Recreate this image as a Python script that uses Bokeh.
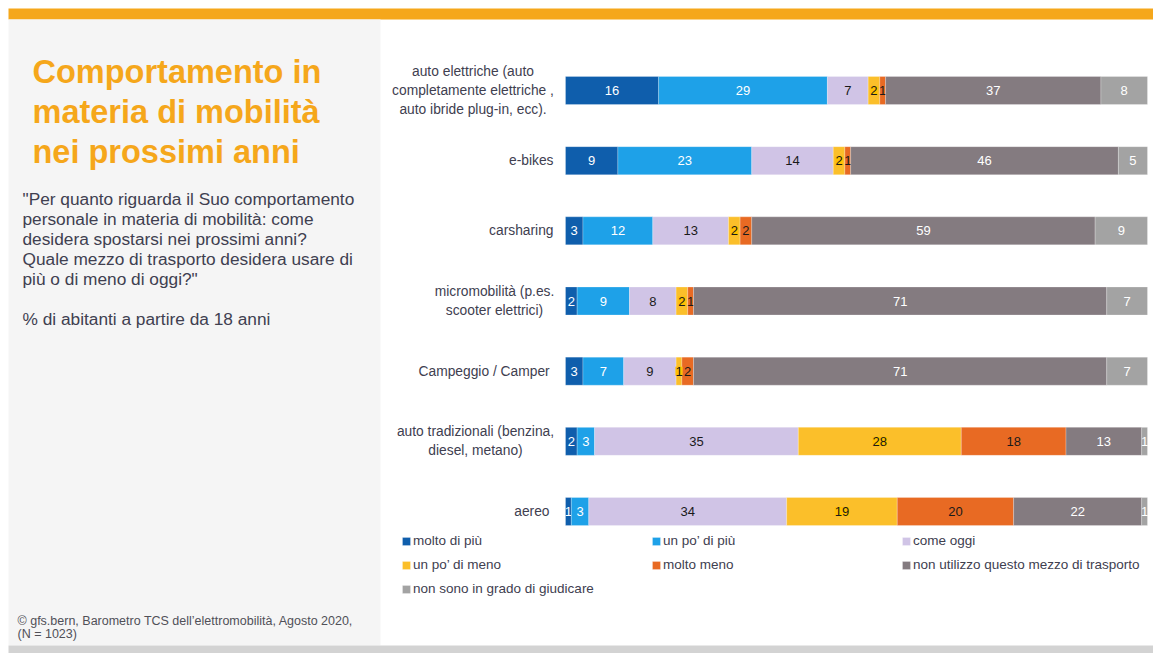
from bokeh.plotting import figure
from bokeh.models import Range1d, ColumnDataSource, Label, BoxAnnotation, LabelSet, Legend, LegendItem
from bokeh.core.properties import value
from bokeh.embed import file_html
from bokeh.resources import INLINE

# ---------------- data ----------------
categories = [
    "auto elettriche (auto\ncompletamente elettriche ,\nauto ibride plug-in, ecc).",
    "e-bikes",
    "carsharing",
    "micromobilità (p.es.\nscooter elettrici)",
    "Campeggio /  Camper",
    "auto tradizionali (benzina,\ndiesel, metano)",
    "aereo",
]
series_names = [
    "molto di più",
    "un po’ di più",
    "come oggi",
    "un po’ di meno",
    "molto meno",
    "non utilizzo questo mezzo di trasporto",
    "non sono in grado di giudicare",
]
molto_di_piu = [16, 9, 3, 2, 3, 2, 1]
un_po_di_piu = [29, 23, 12, 9, 7, 3, 3]
come_oggi = [7, 14, 13, 8, 9, 35, 34]
un_po_di_meno = [2, 2, 2, 2, 1, 28, 19]
molto_meno = [1, 1, 2, 1, 2, 18, 20]
non_utilizzo = [37, 46, 59, 71, 71, 13, 22]
non_so_giudicare = [8, 5, 9, 7, 7, 1, 1]
series_values = [molto_di_piu, un_po_di_piu, come_oggi, un_po_di_meno,
                 molto_meno, non_utilizzo, non_so_giudicare]

title_lines = ["Comportamento in", "materia di mobilità", "nei prossimi anni"]
question_lines = [
    "\"Per quanto riguarda il Suo comportamento",
    "personale in materia di mobilità: come",
    "desidera spostarsi nei prossimi anni?",
    "Quale mezzo di trasporto desidera usare di",
    "più o di meno di oggi?\"",
]
base_text = "% di abitanti a partire da 18 anni"
source_lines = ["©  gfs.bern, Barometro TCS dell’elettromobilità, Agosto 2020,", "(N = 1023)"]

# ---------------- styles ----------------
colors = ["#0F5EAC", "#1EA1E8", "#D0C4E6", "#FBBF2A", "#E86A23", "#847B80", "#A3A3A3"]
label_colors = ["white", "white", "#1A1A1A", "#1A1A1A", "#1A1A1A", "white", "white"]
ORANGE = "#F5A71B"
TXT = "#404050"
FONT = "Liberation Sans"

W, H = 1153, 653
PX0, PX100 = 565, 1147           # canvas x of 0 % and 100 %
k = (PX100 - PX0) / 100.0
Y0, DY = 90.0, 70.17              # canvas y of first bar centre, bar spacing
BAR_H = 28.0 / DY

p = figure(width=W, height=H,
           x_range=Range1d(-PX0 / k, (W - PX0) / k),
           y_range=Range1d((H - Y0) / DY, -Y0 / DY),
           x_axis_type=None, y_axis_type=None, title=None,
           output_backend="svg", toolbar_location=None, min_border=0)
p.outline_line_color = None
p.background_fill_color = "white"
p.border_fill_color = "white"


def sy(canvas_y):
    return H - canvas_y


def box(l, r, t, b, color):
    return BoxAnnotation(left=l, right=r, top=sy(t), bottom=sy(b),
                         left_units="screen", right_units="screen",
                         top_units="screen", bottom_units="screen",
                         fill_color=color, fill_alpha=1.0, line_color=None,
                         level="underlay")


p.add_layout(box(8, W, 8, 19, ORANGE))
p.add_layout(box(8, 380, 19, 645, "#F5F5F5"))
p.add_layout(box(8, W, 645, H, "#D3D3D3"))

# ---------------- bars ----------------
ypos = list(range(len(categories)))
cum = [0.0] * len(categories)
renderers = []
for si, (name, vals) in enumerate(zip(series_names, series_values)):
    left = cum[:]
    right = [a + b for a, b in zip(cum, vals)]
    cum = right
    src = ColumnDataSource(dict(
        y=ypos, left=left, right=right,
        xc=[(a + b) / 2 for a, b in zip(left, right)],
        txt=[str(v) for v in vals],
    ))
    r = p.hbar(y="y", left="left", right="right", height=BAR_H, source=src,
               fill_color=colors[si], line_color="white", line_width=0.4, line_alpha=0.6)
    renderers.append(r)
    if si == 3:
        ls = LabelSet(x="xc", y="y", text="txt", source=src,
                      text_align="center", text_baseline="middle",
                      text_font=value(FONT), text_font_size="13px",
                      text_color=label_colors[si],
                      background_fill_color="#FFC000", background_fill_alpha=1.0)
        p.add_layout(ls)
    else:
        p.text(x="xc", y="y", text="txt", source=src,
               text_align="center", text_baseline="middle",
               text_font=value(FONT), text_font_size="13px",
               text_color=label_colors[si])

# ---------------- category labels ----------------
cat_offset = [-92.5, -12, -12, -71, -12, -90, -16]
cat_align = ["center", "right", "right", "center", "right", "center", "right"]
cat_src = ColumnDataSource(dict(x=[0] * len(categories), y=ypos, text=categories,
                                xo=cat_offset, al=cat_align))
p.text(x="x", y="y", text="text", source=cat_src, x_offset="xo",
       text_align="al", text_baseline="middle", text_line_height=1.27,
       text_font=value(FONT), text_font_size="13.8px", text_color=TXT)

# ---------------- left panel texts ----------------
for i, line in enumerate(title_lines):
    p.add_layout(Label(x=32, y=sy(71 + 40 * i), x_units="screen", y_units="screen",
                       text=line, text_font=FONT, text_font_size="32.5px",
                       text_font_style="bold", text_color=ORANGE,
                       text_baseline="middle", text_align="left"))
for i, line in enumerate(question_lines):
    p.add_layout(Label(x=22, y=sy(198 + 20 * i), x_units="screen", y_units="screen",
                       text=line, text_font=FONT, text_font_size="17.3px",
                       text_color=TXT, text_baseline="middle", text_align="left"))
p.add_layout(Label(x=22, y=sy(318), x_units="screen", y_units="screen",
                   text=base_text, text_font=FONT, text_font_size="17.3px",
                   text_color=TXT, text_baseline="middle", text_align="left"))
for i, line in enumerate(source_lines):
    p.add_layout(Label(x=17, y=sy(620 + 13 * i), x_units="screen", y_units="screen",
                       text=line, text_font=FONT, text_font_size="12.5px",
                       text_color="#505058", text_baseline="middle", text_align="left"))

# ---------------- legend ----------------
legend = Legend(items=[LegendItem(label=n, renderers=[r]) for n, r in zip(series_names, renderers)],
                location=(401, H - 598.7), orientation="horizontal", ncols=3,
                glyph_width=10, glyph_height=10, label_standoff=2,
                label_width=234, label_height=20, spacing=4, padding=0, margin=0,
                border_line_color=None, background_fill_alpha=0,
                label_text_font=FONT, label_text_font_size="13.5px",
                label_text_color=TXT)
p.add_layout(legend)

open("out.html", "w").write(file_html(p, INLINE))
